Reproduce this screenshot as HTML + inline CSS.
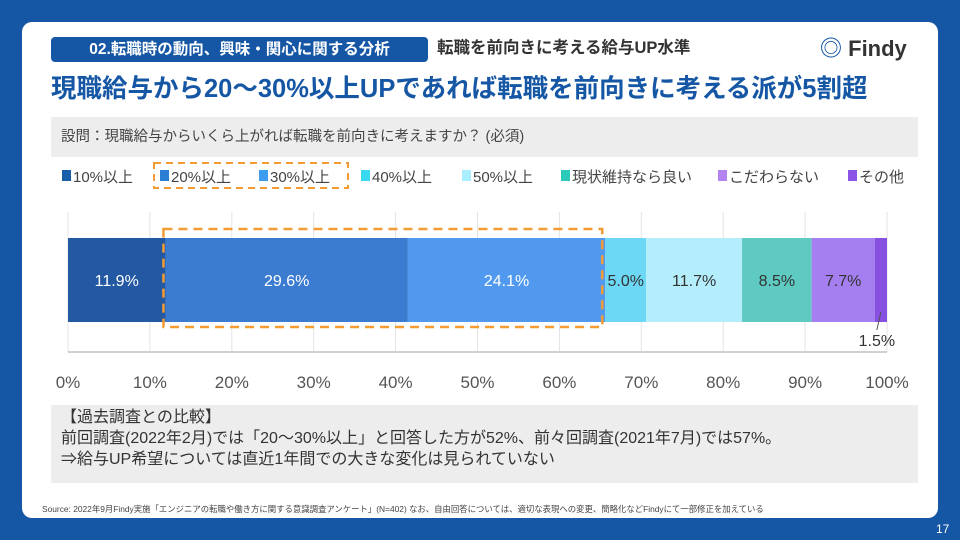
<!DOCTYPE html>
<html><head><meta charset="utf-8"><style>
body{margin:0;width:960px;height:540px;background:#1557a4;font-family:"Liberation Sans","Noto Sans CJK JP",sans-serif;position:relative;overflow:hidden}
.card{position:absolute;left:22px;top:22px;width:916px;height:496px;background:#fff;border-radius:10px}
.abs{position:absolute;white-space:nowrap}
</style></head><body>
<div class="card"></div>
<div class="abs" style="left:51px;top:37px;width:377px;height:25px;background:#1557a4;border-radius:4px;color:#fff;font-size:15.5px;font-weight:bold;line-height:25px;text-align:center">02.転職時の動向、興味・関心に関する分析</div>
<div class="abs" style="left:437px;top:36px;font-size:16.5px;font-weight:bold;color:#333;line-height:25px">転職を前向きに考える給与UP水準</div>
<div class="abs" style="left:820px;top:34px;font-size:22px;font-weight:bold;color:#333;line-height:30px"><span style="color:#1557a4">◎</span> Findy</div>
<div class="abs" style="left:51px;top:72px;font-size:25.5px;font-weight:bold;color:#1557a4;line-height:34px">現職給与から20〜30%以上UPであれば転職を前向きに考える派が5割超</div>
<div class="abs" style="left:51px;top:117px;width:867px;height:40px;background:#ededed;font-size:14.5px;color:#444;line-height:40px;padding-left:10px;box-sizing:border-box">設問：現職給与からいくら上がれば転職を前向きに考えますか？ (必須)</div>
<svg class="abs" style="left:0;top:0" width="960" height="540">
<g id="legend" font-size="15" fill="#444"></g>
<g id="plot"></g>
</svg>
<div class="abs" style="left:51px;top:405px;width:867px;height:78px;background:#ededed;font-size:16px;color:#333;line-height:21px;padding:2px 10px;box-sizing:border-box">【過去調査との比較】<br>前回調査(2022年2月)では「20〜30%以上」と回答した方が52%、前々回調査(2021年7月)では57%。<br>⇒給与UP希望については直近1年間での大きな変化は見られていない</div>
<div class="abs" style="left:42px;top:503px;font-size:8.4px;color:#444">Source: 2022年9月Findy実施「エンジニアの転職や働き方に関する意識調査アンケート」(N=402)  なお、自由回答については、適切な表現への変更、簡略化などFindyにて一部修正を加えている</div>
<div class="abs" style="left:936px;top:522px;font-size:12px;color:#fff">17</div>
<script>
const categories=["10%以上","20%以上","30%以上","40%以上","50%以上","現状維持なら良い","こだわらない","その他"];
const values=[11.9,29.6,24.1,5.0,11.7,8.5,7.7,1.5];
const ticks=[0,10,20,30,40,50,60,70,80,90,100];
const colors=["#2358a2","#3b7bd0","#5099ee","#6cd8f5","#b4eefc","#5ecac1","#a57ff0","#8650e0"];
const legendColors=["#1a5ea9","#2a7fd4","#3c9cf0","#3ad9f2","#a9efff","#2ac9b9","#b383f2","#8b55e6"];
const textColors=["#fff","#fff","#fff","#333","#333","#333","#333","#333"];
const NS="http://www.w3.org/2000/svg";
const x0=68,x1=887,y0=238,y1=322;
const xs=v=>x0+(x1-x0)*v/100;
function mk(t,a,p){const e=document.createElementNS(NS,t);for(const k in a)e.setAttribute(k,a[k]);p.appendChild(e);return e;}
const plot=document.getElementById('plot'),leg=document.getElementById('legend');
const lx=[62,160,259,361,462,561,718,848];
categories.forEach((c,i)=>{
 const r=mk('rect',{x:lx[i],y:170,width:9,height:11,fill:legendColors[i]},leg);
 
 
 const t=mk('text',{x:lx[i]+11,y:182},leg);t.textContent=c;
 
 
});
const lb=mk('rect',{x:154,y:163,width:194,height:25,fill:'none',stroke:'#f39c33','stroke-width':2,'stroke-dasharray':'7,5'},leg);


ticks.forEach(t=>{
 const l=mk('line',{x1:xs(t),x2:xs(t),y1:212,y2:352,stroke:'#e3e3e3','stroke-width':1},plot);
 
 
 const tx=mk('text',{x:xs(t),y:388,'text-anchor':'middle','font-size':17,fill:'#555'},plot);tx.textContent=t+'%';
 
 
});
const ax=mk('line',{x1:x0,x2:x1,y1:352,y2:352,stroke:'#d0d0d0','stroke-width':2},plot);


let cum=0;
values.forEach((v,i)=>{
 const a=xs(cum),b=xs(cum+v);
 const r=mk('rect',{x:a,y:y0,width:b-a,height:y1-y0,fill:colors[i]},plot);
 
 
 const t=mk('text',{'font-size':16,fill:textColors[i],'text-anchor':'middle'},plot);
 t.textContent=v.toFixed(1)+'%';
 
 
 if(v<3){t.setAttribute('x',(a+b)/2-4);t.setAttribute('y',346);
  const l=mk('line',{x1:(a+b)/2,y1:312,x2:(a+b)/2-4,y2:330,stroke:'#555'},plot);
  
  }
 else{t.setAttribute('x',(a+b)/2);t.setAttribute('y',(y0+y1)/2+6);}
 cum+=v;
});
const hb=mk('rect',{x:xs(values[0])-2,y:229,width:xs(values[0]+values[1]+values[2])-xs(values[0])-1,height:98,fill:'none',stroke:'#f39c33','stroke-width':2.5,'stroke-dasharray':'9,6'},plot);


</script>
</body></html>
